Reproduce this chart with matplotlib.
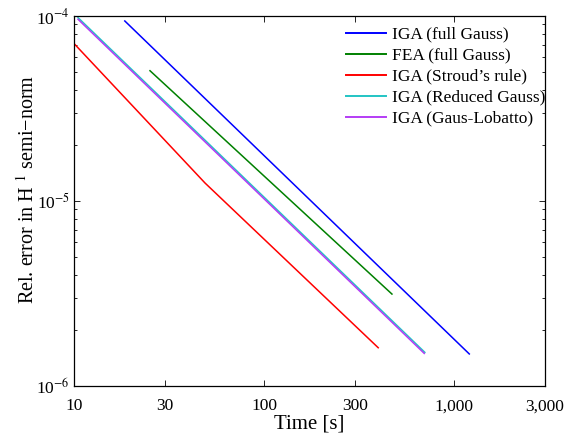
import matplotlib
matplotlib.use("Agg")
import matplotlib.pyplot as plt
from matplotlib.ticker import FixedLocator, FixedFormatter, LogLocator, NullLocator, NullFormatter

plt.rcParams['font.family'] = ['Liberation Serif', 'DejaVu Serif']
plt.rcParams['mathtext.fontset'] = 'stix'

# Convergence data: computation time [s] vs relative H1 semi-norm error
iga_full_t = [18.5, 1199]
iga_full_e = [9.4e-5, 1.49e-6]

fea_full_t = [25.1, 470]
fea_full_e = [5.06e-5, 3.14e-6]

iga_stroud_t = [10.0, 48.9, 398]
iga_stroud_e = [7.1e-5, 1.25e-5, 1.61e-6]

iga_reduced_t = [10.5, 700]
iga_reduced_e = [9.8e-5, 1.52e-6]

iga_lobatto_t = [10.5, 695]
iga_lobatto_e = [9.6e-5, 1.50e-6]

x_ticks = [10, 30, 100, 300, 1000, 3000]
x_tick_labels = ['10', '30', '100', '300', '1,000', '3,000']
y_ticks = [1e-6, 1e-5, 1e-4]
y_tick_labels = [r'10$^{-6}$', r'10$^{-5}$', r'10$^{-4}$']

fig = plt.figure(figsize=(5.71, 4.36), dpi=100)
ax = fig.add_axes([0.1296, 0.1147, 0.8249, 0.8486])

lw = 1.1
ax.plot(iga_full_t, iga_full_e, color='#0000ff', lw=lw, label='IGA (full Gauss)')
ax.plot(fea_full_t, fea_full_e, color='#008000', lw=lw, label='FEA (full Gauss)')
ax.plot(iga_stroud_t, iga_stroud_e, color='#ff0000', lw=lw, label='IGA (Stroud\u2019s rule)')
ax.plot(iga_reduced_t, iga_reduced_e, color='#22c4c4', lw=lw, label='IGA (Reduced Gauss)')
ax.plot(iga_lobatto_t, iga_lobatto_e, color='#b43cf5', lw=lw, label='IGA (Gaus-Lobatto)')

ax.set_xscale('log')
ax.set_yscale('log')
ax.set_xlim(10, 3000)
ax.set_ylim(1e-6, 1e-4)

ax.xaxis.set_major_locator(FixedLocator(x_ticks))
ax.xaxis.set_major_formatter(FixedFormatter(x_tick_labels))
ax.xaxis.set_minor_locator(NullLocator())
ax.yaxis.set_major_locator(FixedLocator(y_ticks))
ax.yaxis.set_major_formatter(FixedFormatter(y_tick_labels))
ax.yaxis.set_minor_locator(LogLocator(base=10, subs=range(2, 10)))
ax.yaxis.set_minor_formatter(NullFormatter())

ax.tick_params(which='both', direction='in', top=True, right=True, labelsize=12.5, width=0.6)
ax.tick_params(which='major', length=4)
ax.tick_params(which='minor', length=2.5)
ax.tick_params(axis='x', pad=9)
ax.tick_params(axis='y', pad=3)
for s in ax.spines.values():
    s.set_linewidth(0.9)

ax.set_xlabel('Time [s]', fontsize=15, labelpad=0)
ax.set_ylabel('Rel. error in H ${}^{1}$ semi\u2212norm', fontsize=14.5, labelpad=2)
ax.yaxis.set_label_coords(-0.075, 0.53)

leg = ax.legend(loc='upper right', frameon=False, fontsize=12.5, handlelength=2.3,
                handletextpad=0.35, labelspacing=0.28, borderaxespad=0.0,
                bbox_to_anchor=(1.016, 0.99))
for h in leg.get_lines():
    h.set_linewidth(1.4)

fig.savefig('out.png', dpi=100)
